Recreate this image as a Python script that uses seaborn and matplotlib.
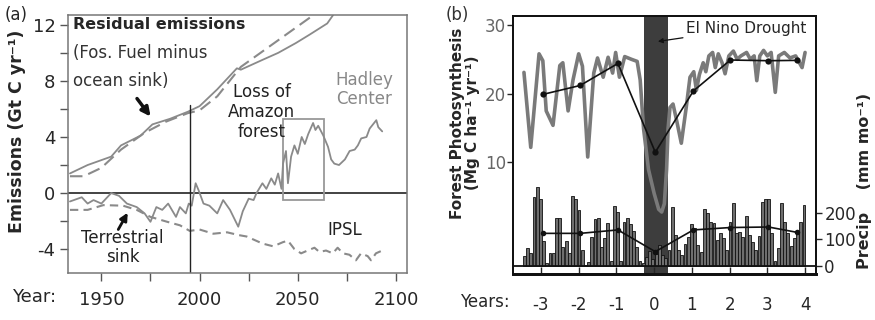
import numpy as np
import pandas as pd
import seaborn as sns
import matplotlib.pyplot as plt
from matplotlib.patches import Rectangle

# ---- panel (a): emissions, Gt C / yr ----
resid_had_year = [1934, 1943, 1955, 1960, 1970, 1976, 1985, 1994, 2000, 2009, 2019, 2021,
                  2032, 2040, 2049, 2056, 2065, 2068]
resid_had_val = [1.4, 2.0, 2.6, 3.4, 4.1, 4.9, 5.3, 5.8, 6.2, 7.4, 8.9, 8.8,
                 9.5, 10.0, 10.7, 11.3, 12.1, 12.7]
resid_ipsl_year = [1934, 1941, 1950, 1960, 1972, 1983, 1994, 2000, 2009, 2021, 2030, 2038,
                   2048, 2058]
resid_ipsl_val = [1.2, 1.2, 1.8, 3.1, 4.3, 5.1, 5.7, 5.9, 6.9, 9.0, 9.9, 10.7,
                  11.7, 12.7]

sink_had_year = [1934, 1938, 1940, 1943, 1946, 1950, 1955, 1959, 1963, 1968, 1972, 1975,
                 1978, 1981, 1984, 1988, 1990, 1993, 1994.5, 1996, 1998, 1999.5, 2002, 2005,
                 2009, 2012, 2015.5, 2019.7, 2022, 2025, 2027.5, 2029, 2032, 2034, 2036.5,
                 2038.3, 2040, 2041.7, 2042.5, 2044, 2045, 2046.6, 2048.3, 2050, 2052,
                 2053.6, 2055.3, 2057.8, 2059, 2060.4, 2063, 2065.4, 2067, 2068.6, 2071,
                 2074, 2076.4, 2079, 2080.6, 2082.3, 2085, 2086.6, 2088.3, 2090, 2091,
                 2093]
sink_had_val = [-0.6, -0.4, -0.3, -0.75, -0.5, -0.75, 0.0, -0.2, -0.75, -1.0, -1.45, -2.05,
                -1.0, -1.2, -0.75, -1.7, -1.0, -1.45, -0.75, -0.9, 0.7, 0.2, -0.75, -0.9,
                -1.45, -0.5, -1.2, -2.4, -1.3, -0.4, -0.5, 0.0, 0.7, 0.3, 1.05,
                0.6, 1.4, 0.3, 2.1, 3.0, 0.7, 2.6, 3.4, 2.8, 4.0,
                3.5, 4.2, 5.0, 4.5, 4.8, 4.1, 3.3, 2.4, 2.1, 2.0,
                2.4, 3.0, 3.1, 3.4, 3.9, 4.0, 4.6, 4.9, 5.2, 4.7,
                4.4]
sink_ipsl_year = [1934, 1943, 1951, 1961, 1968, 1975, 1983.5, 1990, 1995, 2000, 2007, 2014,
                  2020, 2024, 2032, 2037.5, 2042.5, 2045, 2048.3, 2051.7, 2055, 2058.5,
                  2061, 2064.4, 2067.8, 2070.3, 2073, 2076.3, 2079.6, 2082.2, 2085.6,
                  2087.3, 2089.8, 2093]
sink_ipsl_val = [-1.2, -1.2, -0.86, -0.9, -1.2, -1.7, -2.05, -2.3, -2.7, -2.6, -2.9, -2.8,
                 -3.0, -3.1, -3.6, -3.8, -3.5, -3.4, -4.0, -4.3, -4.1, -3.9,
                 -4.2, -4.1, -4.3, -3.9, -4.3, -4.4, -4.8, -4.3, -4.5,
                 -4.8, -4.3, -4.1]

year_ticks = [1950, 2000, 2050, 2100]
emis_ticks = [-4, 0, 4, 8, 12]

# ---- panel (b): forest photosynthesis (Mg C/ha/yr) and precipitation (mm/mo) ----
photo_year = [-3.45, -3.27, -3.05, -2.95, -2.86, -2.68, -2.5, -2.42, -2.28, -2.15, -2.0,
              -1.9, -1.76, -1.6, -1.5, -1.35, -1.22, -1.1, -1.02, -0.92, -0.78, -0.6,
              -0.45, -0.37, -0.28, -0.15, 0.0, 0.12, 0.2, 0.27, 0.33, 0.37, 0.42, 0.5,
              0.6, 0.72, 0.85, 0.95, 1.05, 1.12, 1.2, 1.3, 1.37, 1.45, 1.55, 1.62, 1.7,
              1.8, 1.88, 1.98, 2.1, 2.2, 2.3, 2.45, 2.55, 2.65, 2.72, 2.8, 2.9, 3.0,
              3.1, 3.21, 3.3, 3.45, 3.6, 3.75, 3.85, 3.92, 4.0]
photo_val = [23.1, 12.2, 25.8, 24.8, 17.5, 15.4, 24.1, 24.5, 17.5, 22.0, 25.8,
             24.0, 10.8, 23.0, 25.2, 22.4, 25.3, 23.0, 26.0, 22.4, 25.4, 25.0,
             24.7, 22.0, 14.9, 9.0, 5.5, 3.2, 2.8, 4.0, 9.0, 15.0, 18.0, 18.5,
             16.0, 12.8, 18.0, 22.4, 23.2, 20.5, 22.8, 24.5, 23.2, 25.5, 26.0, 23.8, 25.8,
             24.5, 22.9, 25.5, 26.2, 25.0, 25.5, 26.0, 25.0, 25.5, 21.9, 25.5, 26.3, 25.5,
             26.0, 20.2, 25.5, 26.0, 25.2, 25.5, 24.5, 23.8, 26.0]
annual_year = [-2.95, -1.96, -0.96, 0.03, 1.04, 2.02, 3.03, 3.78]
photo_annual = [19.9, 21.2, 24.4, 11.5, 20.4, 24.9, 24.8, 24.85]
precip_annual = [123, 123, 136, 54, 136, 145, 147, 127]

precip_monthly = [38, 67, 49, 259, 297, 252, 96, 10, 48, 48, 180, 180, 73, 96, 48, 264,
                  252, 211, 60, 5, 15, 111, 176, 182, 73, 104, 163, 20, 226, 205, 20, 167,
                  180, 158, 133, 70, 20, 10,
                  35, 55, 25, 45, 80, 40, 30, 60,
                  221, 117, 60, 41, 83, 111, 157, 142, 79, 54, 215, 199, 167, 161, 98, 126,
                  104, 60, 167, 237, 123, 130, 111, 189, 117, 92, 60, 113, 243, 252, 252,
                  123, 20, 67, 237, 167, 123, 75, 104, 130, 167, 230]
precip_first, precip_last = -3.44, 3.97
drought_start, drought_end = -0.27, 0.37

sns.set_style('ticks')
plt.rcParams['font.family'] = ['DejaVu Sans']
plt.rcParams['axes.unicode_minus'] = False

fig = plt.figure(figsize=(8.75, 3.2), dpi=100)
axa = fig.add_axes([0.0777, 0.147, 0.3874, 0.806])
axb = fig.add_axes([0.5863, 0.144, 0.3463, 0.806])

# ---------- panel (a) ----------
line_gray = '#8a8a8a'
sns.lineplot(x=resid_had_year, y=resid_had_val, ax=axa, color=line_gray, lw=1.3)
sns.lineplot(x=resid_ipsl_year, y=resid_ipsl_val, ax=axa, color=line_gray, lw=1.5,
             linestyle=(0, (6, 3)))
sns.lineplot(x=sink_had_year, y=sink_had_val, ax=axa, color=line_gray, lw=1.3)
sns.lineplot(x=sink_ipsl_year, y=sink_ipsl_val, ax=axa, color=line_gray, lw=1.5,
             linestyle=(0, (4, 2.5)))

axa.set_xlim(1933, 2105.6)
axa.set_ylim(-5.7, 12.7)
axa.axhline(0, color='#222', lw=1.2, zorder=1)
axa.axvline(1995, ymin=0, ymax=(6.3 + 5.7) / 18.4, color='#222', lw=1.0)
axa.add_patch(Rectangle((2042.5, -0.5), 20.7, 5.8, fill=False, ec='#999', lw=1.3))

axa.set_xticks(year_ticks)
axa.set_xticks([1975, 2025, 2075], minor=True)
axa.set_yticks(emis_ticks)
axa.set_yticks([-2, 2, 6, 10], minor=True)
axa.tick_params(which='both', length=6, width=1, color='#555', labelsize=13, pad=3)
axa.tick_params(axis='x', which='both', pad=7)
for s in axa.spines.values():
    s.set_color('#777')
    s.set_linewidth(1.1)
    s.set_visible(True)
axa.set_xlabel('')
axa.set_ylabel('Emissions (Gt C yr⁻¹)', fontsize=12.5, fontweight='bold')
axa.yaxis.set_label_coords(-0.125, 0.55)

axa.text(1935.8, 12.0, 'Residual emissions', fontsize=11.5, fontweight='bold',
         va='center', ha='left')
axa.text(1935.8, 10.0, '(Fos. Fuel minus', fontsize=12, color='#333', va='center')
axa.text(1935.8, 8.0, 'ocean sink)', fontsize=12, color='#333', va='center')
axa.annotate('', xy=(1975.9, 5.3), xytext=(1967.3, 6.9),
             arrowprops=dict(arrowstyle='-|>', color='#111', lw=2.5, mutation_scale=13))
axa.text(2031.7, 5.8, 'Loss of\nAmazon\nforest', fontsize=12, ha='center', va='center',
         color='#222', linespacing=1.15)
axa.text(2084, 7.4, 'Hadley\nCenter', fontsize=12, ha='center', va='center',
         color='#888', linespacing=1.1)
axa.text(2073.9, -2.6, 'IPSL', fontsize=12, ha='center', va='center', color='#222')
axa.text(1960.7, -3.9, 'Terrestrial\nsink', fontsize=12, ha='center', va='center',
         color='#222', linespacing=1.05)
axa.annotate('', xy=(1963.4, -1.4), xytext=(1958.6, -2.6),
             arrowprops=dict(arrowstyle='-|>', color='#111', lw=2, mutation_scale=11,
                             shrinkA=0, shrinkB=0))

fig.text(5 / 875, 1 - 15 / 320, '(a)', fontsize=12, va='center')
fig.text(12 / 875, 1 - 297 / 320, 'Year:', fontsize=13, va='center')

# ---------- panel (b) ----------
axb.axvspan(drought_start, drought_end, color='#3d3d3d', zorder=0, lw=0)
sns.lineplot(x=photo_year, y=photo_val, ax=axb, color='#7a7a7a', lw=2.6, zorder=2)
sns.lineplot(x=annual_year, y=photo_annual, ax=axb, color='#111', lw=1.2,
             marker='o', markersize=4.5, markeredgewidth=0, zorder=3)
axb.set_xlim(-3.74, 4.29)
axb.set_ylim(-6.2, 31.3)

ax2 = axb.twinx()
months = np.linspace(precip_first, precip_last, len(precip_monthly))
ax2.bar(months, precip_monthly, width=0.075, color='#6e6e6e', edgecolor='#111',
        linewidth=0.6, zorder=2)
sns.lineplot(x=annual_year, y=precip_annual, ax=ax2, color='#111', lw=1.2,
             marker='o', markersize=4, markeredgewidth=0, zorder=3)
ax2.axhline(0, color='#111', lw=1.3)
ax2.set_ylim(-30, 943)
ax2.set_xlim(-3.74, 4.29)

axb.set_xticks(range(-3, 5))
axb.tick_params(axis='x', direction='in', length=5, width=1, labelsize=12, pad=16)
axb.set_yticks([10, 20, 30])
axb.tick_params(axis='y', length=4, width=1, labelsize=12, labelcolor='#666', pad=1)
ax2.set_yticks([0, 100, 200])
ax2.tick_params(axis='y', length=4, width=1, labelsize=12, pad=2)
for a in (axb, ax2):
    for s in a.spines.values():
        s.set_color('#111')
        s.set_linewidth(1.3)
axb.spines['bottom'].set_linewidth(2)
ax2.spines['bottom'].set_linewidth(2)

axb.set_xlabel('')
axb.set_ylabel('Forest Photosynthesis\n(Mg C ha⁻¹ yr⁻¹)', fontsize=11, fontweight='bold',
               linespacing=1.0)
axb.yaxis.set_label_coords(-0.11, 0.585)
ax2.set_ylabel('Precip    (mm mo⁻¹)', fontsize=11.5, fontweight='bold')
ax2.yaxis.set_label_coords(1.135, 0.36)

axb.annotate('El Nino Drought', xy=(0.1, 27.6), xytext=(0.85, 29.5), fontsize=11,
             va='center', ha='left',
             arrowprops=dict(arrowstyle='-|>', color='#111', lw=0.9, mutation_scale=7,
                             shrinkA=0, shrinkB=0))

fig.text(446 / 875, 1 - 15 / 320, '(b)', fontsize=12, va='center', color='#333')
fig.text(460 / 875, 1 - 302 / 320, 'Years:', fontsize=12, va='center')

fig.savefig('out.png', dpi=100)
